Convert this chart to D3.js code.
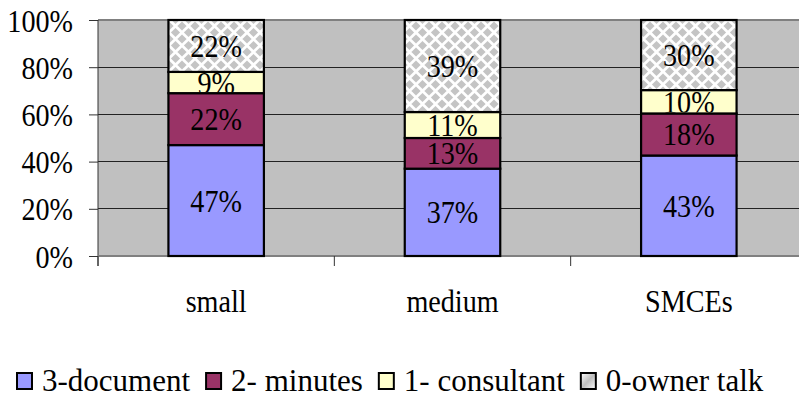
<!DOCTYPE html>
<html><head><meta charset="utf-8">
<script src="https://cdn.jsdelivr.net/npm/d3@7/dist/d3.min.js"></script>
<style>html,body{margin:0;padding:0;background:#fff;overflow:hidden} text{font-family:'Liberation Serif','Times New Roman',serif}</style>
</head><body>
<script>
const categories = ["small", "medium", "SMCEs"];
const seriesNames = ["3-document", "2- minutes", "1- consultant", "0-owner talk"];
const docValues = [47, 37, 43];
const minutesValues = [22, 13, 18];
const consultantValues = [9, 11, 10];
const ownerValues = [22, 39, 30];
const yTicks = [0, 0.2, 0.4, 0.6, 0.8, 1.0];
const colors = ["#9999FF", "#993366", "#FFFFCC", "url(#diamonds)"];
const legendSwatch = ["#9999FF", "#993366", "#FFFFCC", "url(#legendPat)"];

const FONT = "'Liberation Serif', 'Times New Roman', serif";
const W = 799, H = 398;
const svg = d3.select("body").append("svg").attr("width", W).attr("height", H)
  .attr("font-family", FONT);
const defs = svg.append("defs");
const P = 13;
const pat = defs.append("pattern").attr("id", "diamonds").attr("patternUnits", "userSpaceOnUse")
  .attr("width", P).attr("height", P);
pat.append("rect").attr("width", P).attr("height", P).attr("fill", "#fff");
const dpath = (cx, cy, r) => `M${cx-r},${cy}L${cx},${cy-r}L${cx+r},${cy}L${cx},${cy+r}Z`;
[[0,0],[P,0],[0,P],[P,P],[P/2,P/2]].forEach(([cx,cy]) =>
  pat.append("path").attr("d", dpath(cx, cy, 4.6)).attr("fill", "#C4C4C4"));
const lg = defs.append("linearGradient").attr("id", "legendPat").attr("x1", 0).attr("y1", 0).attr("x2", 1).attr("y2", 1);
lg.append("stop").attr("offset", "0%").attr("stop-color", "#ffffff");
lg.append("stop").attr("offset", "50%").attr("stop-color", "#bdbdbd");
lg.append("stop").attr("offset", "100%").attr("stop-color", "#ffffff");

const x = d3.scaleBand().domain(categories).range([98, 807]).paddingInner(0.596).paddingOuter(0.298);
const y = d3.scaleLinear().domain([0, 1]).range([256, 20]);

// background
svg.append("rect").attr("x", 98).attr("y", y(1)).attr("width", 709).attr("height", y(0) - y(1)).attr("fill", "#C0C0C0");

// gridlines
svg.append("g").selectAll("line").data(yTicks.filter(t => t > 0 && t < 1)).join("line")
  .attr("x1", 98).attr("x2", 807).attr("y1", d => y(d)).attr("y2", d => y(d))
  .attr("stroke", "#222").attr("stroke-width", 1).attr("shape-rendering", "crispEdges");
svg.append("line").attr("x1", 98).attr("x2", 807).attr("y1", y(1)).attr("y2", y(1))
  .attr("stroke", "#808080").attr("stroke-width", 2);

// y axis
const yAxis = d3.axisLeft(y).tickValues(yTicks).tickSize(9).tickFormat(d3.format(".0%"));
const ya = svg.append("g").attr("transform", "translate(98,0)").call(yAxis)
  .attr("font-family", FONT).attr("font-size", 32);
ya.select(".domain").attr("stroke", "#333").attr("d", `M0,${y(1)}V${y(0)+10}`);
ya.selectAll(".tick line").attr("stroke", "#333");
ya.selectAll(".tick text").attr("fill", "#000").attr("x", null).attr("dy", null)
  .attr("transform", "translate(-25,11) scale(0.88,1)").attr("text-anchor", "end");

// x axis
const bounds = [98, ...categories.slice(1).map(c => x(c) - x.step() * x.paddingInner() / 2)];
const xa = svg.append("g");
xa.append("line").attr("x1", 98).attr("x2", 807).attr("y1", y(0)).attr("y2", y(0)).attr("stroke", "#808080").attr("stroke-width", 2);
xa.selectAll(".tk").data(bounds).join("line").attr("class", "tk")
  .attr("x1", d => d).attr("x2", d => d).attr("y1", y(0)).attr("y2", y(0) + 10).attr("stroke", "#333");
xa.selectAll(".cl").data(categories).join("text").attr("class", "cl")
  .attr("transform", d => `translate(${x(d) + x.bandwidth()/2},312) scale(0.88,1)`)
  .attr("text-anchor", "middle").attr("font-size", 32).attr("font-family", FONT).text(d => d);

// stack
const table = categories.map((c, i) => {
  const tot = docValues[i] + minutesValues[i] + consultantValues[i] + ownerValues[i];
  return { cat: c, tot, s0: docValues[i], s1: minutesValues[i], s2: consultantValues[i], s3: ownerValues[i] };
});
const keys = ["s0", "s1", "s2", "s3"];
const stack = d3.stack().keys(keys).value((d, k) => d[k] / d.tot)(table);

const barsG = svg.append("g");
const labelsG = svg.append("g");
stack.forEach((layer, li) => {
  layer.forEach((seg, ci) => {
    const x0 = x(seg.data.cat), bw = x.bandwidth();
    const y0 = y(seg[1]), h = y(seg[0]) - y(seg[1]);
    const id = `clip-${li}-${ci}`;
    defs.append("clipPath").attr("id", id).append("rect").attr("x", x0).attr("y", y0 + 1).attr("width", bw).attr("height", Math.max(0, h - 2));
    barsG.append("rect").attr("x", x0).attr("y", y0).attr("width", bw).attr("height", h)
      .attr("fill", colors[li]).attr("stroke", "#000").attr("stroke-width", 2.2);
    labelsG.append("g").attr("clip-path", `url(#${id})`)
      .append("text")
      .attr("transform", `translate(${x0 + bw/2},${y0 + h/2 + 11}) scale(0.88,1)`)
      .attr("text-anchor", "middle").attr("font-size", 32).attr("font-family", FONT).attr("fill", "#000")
      .text(seg.data[layer.key] + "%");
  });
});

// legend
const leg = svg.append("g");
let lx = 16;
seriesNames.forEach((name, i) => {
  leg.append("rect").attr("x", lx + 1).attr("y", 373).attr("width", 15).attr("height", 16)
    .attr("fill", legendSwatch[i]).attr("stroke", "#000").attr("stroke-width", 2);
  const t = leg.append("text").attr("x", lx + 26).attr("y", 391).attr("font-size", 31)
    .attr("font-family", FONT).attr("fill", "#000").text(name);
  lx = lx + 26 + t.node().getComputedTextLength() + 15;
});
</script>
</body></html>
